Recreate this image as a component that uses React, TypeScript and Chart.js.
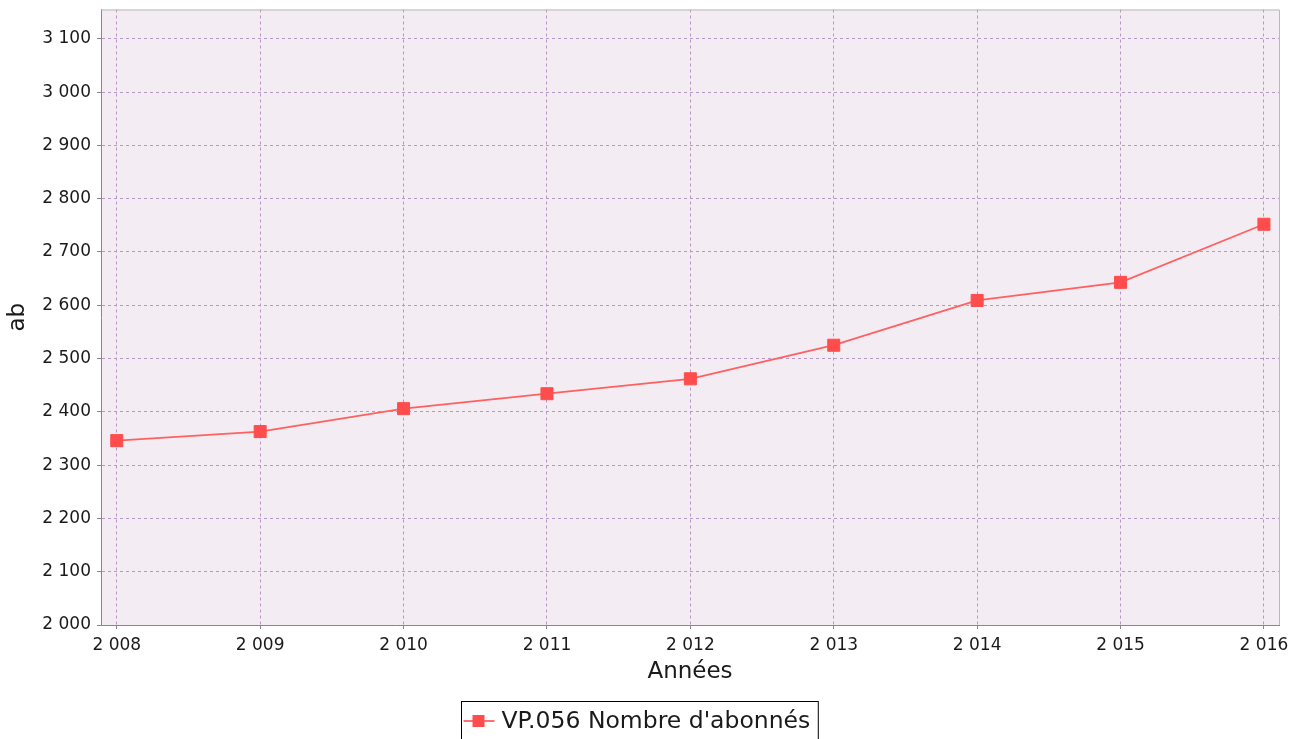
import React, { useEffect, useRef } from "react";
import { Chart, registerables } from "chart.js";

Chart.register(...registerables);

const years: number[] = [2008, 2009, 2010, 2011, 2012, 2013, 2014, 2015, 2016];
const subscribers: number[] = [2346, 2363, 2406, 2434, 2462, 2525, 2609, 2643, 2752];
const seriesLabel = "VP.056 Nombre d'abonnés";
const xTitle = "Années";
const yTitle = "ab";
const yMin = 2000;
const yMax = 3155;
const yStep = 100;
const xMin = 2007.89;
const xMax = 2016.105;

const FONT = "'DejaVu Sans', 'Liberation Sans', sans-serif";
const GRID = "#b996c4";
const fmt = (v: number) => {
  const s = String(Math.round(v));
  return s.replace(/\B(?=(\d{3})+(?!\d))/g, " ");
};

const plotBgPlugin = {
  id: "plotBg",
  beforeDraw(chart: any) {
    const { ctx, chartArea: a } = chart;
    ctx.save();
    ctx.fillStyle = "#f3ecf3";
    ctx.fillRect(a.left, a.top, a.right - a.left, a.bottom - a.top);
    ctx.restore();
  },
  afterDraw(chart: any) {
    const { ctx, chartArea: a } = chart;
    ctx.save();
    ctx.strokeStyle = "#b8b8b8";
    ctx.lineWidth = 1;
    ctx.beginPath();
    ctx.moveTo(a.left, a.top + 0.5);
    ctx.lineTo(a.right + 0.5, a.top + 0.5);
    ctx.lineTo(a.right + 0.5, a.bottom);
    ctx.stroke();
    ctx.restore();
  },
};

const legendBoxPlugin = {
  id: "legendBox",
  afterDraw(chart: any) {
    const { ctx } = chart;
    const ds = chart.data.datasets[0];
    ctx.save();
    ctx.font = `23.5px ${FONT}`;
    const tw = ctx.measureText(ds.label).width;
    const boxW = tw + 48;
    const cx = chart.width / 2 - 12.5;
    const left = Math.round(cx - boxW / 2) + 0.5;
    const top = 701.5;
    ctx.fillStyle = "#ffffff";
    ctx.fillRect(left, top, boxW, 60);
    ctx.strokeStyle = "#000000";
    ctx.lineWidth = 1;
    ctx.strokeRect(left, top, boxW, 60);
    const my = 721;
    ctx.strokeStyle = ds.borderColor;
    ctx.lineWidth = 1.8;
    ctx.beginPath();
    ctx.moveTo(left + 2, my);
    ctx.lineTo(left + 33, my);
    ctx.stroke();
    ctx.fillStyle = ds.pointBackgroundColor;
    ctx.fillRect(left + 11, my - 6, 12, 12);
    ctx.fillStyle = "#1a1a1a";
    ctx.textBaseline = "alphabetic";
    ctx.textAlign = "left";
    ctx.fillText(ds.label, left + 40, 728);
    ctx.restore();
  },
};

export default function App() {
  const ref = useRef<HTMLCanvasElement | null>(null);

  useEffect(() => {
    if (!ref.current) return;
    const chart = new Chart(ref.current, {
      type: "line",
      data: {
        datasets: [
          {
            label: seriesLabel,
            data: years.map((y, i) => ({ x: y, y: subscribers[i] })),
            borderColor: "#ff6060",
            backgroundColor: "#ff4d4d",
            pointBackgroundColor: "#ff4d4d",
            pointBorderColor: "#ff4d4d",
            pointBorderWidth: 1,
            pointStyle: "rect",
            pointRadius: 8.5,
            borderWidth: 1.8,
            tension: 0,
          },
        ],
      },
      options: {
        animation: false,
        responsive: false,
        layout: { padding: { left: 0, top: 9, right: 25, bottom: 0 } },
        plugins: { legend: { display: false }, tooltip: { enabled: false } },
        scales: {
          x: {
            type: "linear",
            min: xMin,
            max: xMax,
            afterBuildTicks: (s: any) => {
              s.ticks = s.ticks.filter((t: any) => Number.isInteger(t.value));
            },
            afterFit: (s: any) => {
              s.height = 114;
              s.paddingLeft = 0;
              s.paddingRight = 0;
            },
            ticks: {
              stepSize: 1,
              includeBounds: false,
              padding: 6,
              color: "#1a1a1a",
              font: { family: FONT, size: 17 },
              callback: (v: any) => fmt(Number(v)),
              maxRotation: 0,
              autoSkip: false,
            },
            grid: {
              color: GRID,
              tickColor: "#888888",
              tickLength: 4,
              tickBorderDash: [],
            },
            border: { color: "#888888", dash: [3, 3], width: 1 },
            title: {
              display: true,
              text: xTitle,
              color: "#1a1a1a",
              font: { family: FONT, size: 23 },
              padding: { top: 0, bottom: 53 },
            },
          },
          y: {
            type: "linear",
            min: yMin,
            max: yMax,
            afterBuildTicks: (s: any) => {
              s.ticks = s.ticks.filter((t: any) => t.value % yStep === 0);
            },
            afterFit: (s: any) => {
              s.width = 101;
              s.paddingTop = 0;
              s.paddingBottom = 0;
            },
            ticks: {
              stepSize: yStep,
              includeBounds: false,
              padding: 6,
              color: "#1a1a1a",
              font: { family: FONT, size: 17 },
              callback: (v: any) => fmt(Number(v)),
            },
            grid: {
              color: GRID,
              tickColor: "#888888",
              tickLength: 4,
              tickBorderDash: [],
            },
            border: { color: "#888888", dash: [3, 3], width: 1 },
            title: {
              display: true,
              text: yTitle,
              color: "#1a1a1a",
              font: { family: FONT, size: 23 },
              padding: { top: 4, bottom: 0 },
            },
          },
        },
      },
      plugins: [plotBgPlugin, legendBoxPlugin],
    });
    return () => chart.destroy();
  }, []);

  return (
    <div style={{ position: "absolute", left: 0, top: 0, width: 1304, height: 739, background: "#fff" }}>
      <canvas ref={ref} width={1304} height={739} />
    </div>
  );
}
